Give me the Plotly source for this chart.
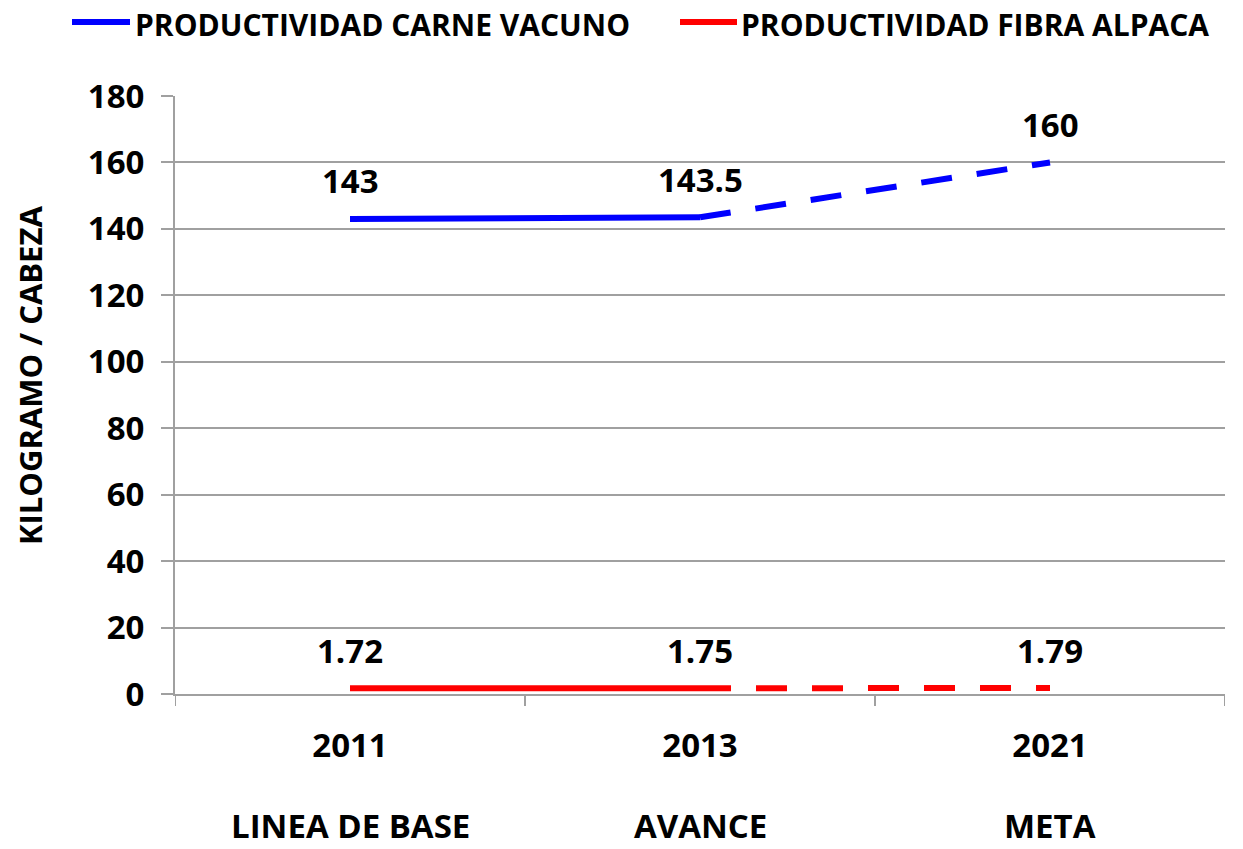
import plotly.graph_objects as go

years = ["2011", "2013", "2021"]
phases = ["LINEA DE BASE", "AVANCE", "META"]
carne = [143, 143.5, 160]
fibra = [1.72, 1.75, 1.79]
carne_labels = ["143", "143.5", "160"]
fibra_labels = ["1.72", "1.75", "1.79"]
y_ticks = [0, 20, 40, 60, 80, 100, 120, 140, 160, 180]
series_names = ["PRODUCTIVIDAD CARNE VACUNO", "PRODUCTIVIDAD FIBRA ALPACA"]
y_title = "KILOGRAMO / CABEZA"

FONT = "Open Sans"
BLUE = "#0000FF"
RED = "#FF0000"
GRID = "#A0A0A0"
DASH = "31px,25px"
FS = 33

# plot area in figure pixels (page has 8px body offset)
L, R, T, B = 167, 26, 88, 163
W, H = 1243, 849
PW = W - L - R
PH = H - T - B


def px(xf):
    return (xf - L) / PW


def py(yf):
    return (H - B - yf) / PH


fig = go.Figure()

idx = list(range(len(years)))
fig.add_trace(go.Scatter(x=idx[:2], y=carne[:2], mode="lines", name=series_names[0],
                         line=dict(color=BLUE, width=6)))
fig.add_trace(go.Scatter(x=idx[1:], y=carne[1:], mode="lines",
                         line=dict(color=BLUE, width=6, dash=DASH)))
fig.add_trace(go.Scatter(x=idx[:2], y=fibra[:2], mode="lines", name=series_names[1],
                         line=dict(color=RED, width=6)))
fig.add_trace(go.Scatter(x=idx[1:], y=fibra[1:], mode="lines",
                         line=dict(color=RED, width=6, dash=DASH)))

bold = dict(family=FONT, size=FS, color="black", weight="bold")
annotations = []
for i, v, t in zip(idx, carne, carne_labels):
    annotations.append(dict(x=i, y=v, text=t, showarrow=False, yshift=38, font=bold))
for i, v, t in zip(idx, fibra, fibra_labels):
    annotations.append(dict(x=i, y=v, text=t, showarrow=False, yshift=38, font=bold))
for i, p in zip(idx, phases):
    annotations.append(dict(x=i, y=0, yref="paper", text=p, showarrow=False, yshift=-131,
                            yanchor="middle", font=bold))

# y axis title
annotations.append(dict(xref="paper", yref="paper", x=px(22), y=py(368), text=y_title,
                        textangle=-90, showarrow=False, xanchor="center", yanchor="middle",
                        font=dict(family=FONT, size=31, color="black", weight="bold")))

# manual legend
shapes = []
leg = [(64, 122, 125, BLUE, series_names[0]), (672, 729, 731, RED, series_names[1])]
for x0, x1, xt, col, name in leg:
    shapes.append(dict(type="line", xref="paper", yref="paper", x0=px(x0), x1=px(x1),
                       y0=py(14), y1=py(14), line=dict(color=col, width=6)))
    annotations.append(dict(xref="paper", yref="paper", x=px(xt), y=py(16), xanchor="left",
                            yanchor="middle", text=name, showarrow=False,
                            font=dict(family=FONT, size=30, color="black", weight="bold")))

# boundary tick marks on x axis
for bx in [-0.5, 0.5, 1.5, 2.5]:
    shapes.append(dict(type="line", xref="x", yref="paper", x0=bx, x1=bx, y0=0, y1=-12 / PH,
                       line=dict(color=GRID, width=2)))

fig.update_layout(
    width=W, height=H,
    margin=dict(l=L, r=R, t=T, b=B),
    paper_bgcolor="white", plot_bgcolor="white",
    font=bold,
    showlegend=False,
    annotations=annotations,
    shapes=shapes,
)

fig.update_xaxes(range=[-0.5, 2.5], tickvals=idx, ticktext=years, showgrid=False,
                 showline=True, linecolor=GRID, linewidth=2, zeroline=False,
                 ticks="", automargin=False,
                 tickfont=bold, ticklabelstandoff=21)

fig.update_yaxes(range=[0, 180], tickvals=y_ticks, showgrid=True, gridcolor=GRID, gridwidth=2,
                 showline=True, linecolor=GRID, linewidth=2, zeroline=False,
                 ticks="outside", ticklen=12, tickcolor=GRID, tickwidth=2,
                 tickfont=bold, ticklabelstandoff=10, automargin=False)

fig.write_html("out.html")
